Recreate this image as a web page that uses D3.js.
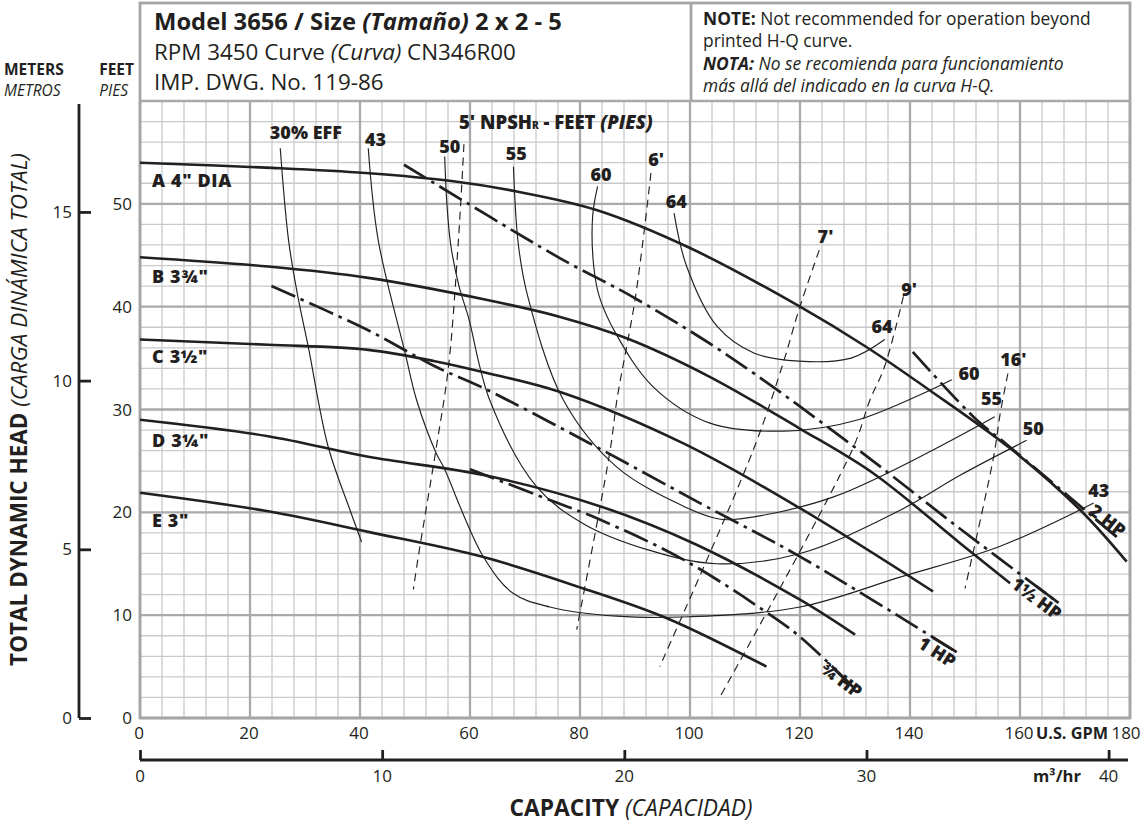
<!DOCTYPE html>
<html><head><meta charset="utf-8">
<script src="https://cdn.jsdelivr.net/npm/d3@7"></script>
<style>
body{margin:0;background:#fff;}
svg text{font-family:"Open Sans","Noto Sans",sans-serif;fill:#231f20;}
</style></head><body>
<svg id="c" width="1146" height="824"></svg>
<script>
// ---------------- DATA ----------------
const gpmTicks = [0,20,40,60,80,100,120,140,160,180];
const ftTicks = [0,10,20,30,40,50];
const meterTicks = [0,5,10,15];
const m3hTicks = [0,10,20,30,40];

// head-capacity curves [GPM, feet]
const headA = [[0,54],[24,53.5],[41,53],[57,52.2],[68.5,51.2],[83,49.4],[100,45.7],[120,40],[132,36.1],[143.5,31.9],[158.5,26.1],[171,20.2],[179.4,15.2]];
const headB = [[0,44.8],[23.3,43.9],[41.5,42.8],[62.7,40.7],[76.4,39.0],[88.6,36.9],[103.5,33.2],[119.8,28.2],[133.3,23.8],[149.1,17.0],[158.2,13.1]];
const headC = [[0,36.8],[23.3,36.3],[41.5,35.8],[53.6,34.7],[62.7,33.6],[76.4,31.7],[98.8,26.7],[120,20.4],[144.2,12.3]];
const headD = [[0,29.0],[23.3,27.4],[41.5,25.4],[62.7,23.6],[83.6,20.6],[101,16.9],[120,11.5],[130,8.1]];
const headE = [[0,21.9],[23.3,20.1],[41.5,18.1],[62.1,15.7],[80.6,12.6],[95.8,9.7],[113.9,5.0]];

// efficiency curves
const eff30 = [[25.5,55.4],[27,46.5],[28.7,41.0],[30.6,36.1],[34.2,26.4],[38.2,20.2],[40.3,17.1]];
const eff43 = [[41.5,55.4],[43.3,46.5],[48.2,35.5],[50.3,30.9],[53.9,25.7],[55.2,24.4],[62.4,15.7],[67.9,12.1],[74.5,10.8],[86.7,9.9],[100,9.85],[120,10.8],[138.2,13.7],[156.4,16.7],[173.4,20.9]];
const eff50 = [[55.4,54.6],[55.8,50],[56.5,46],[58,42],[59.7,39.0],[63.6,30.9],[72.1,22.5],[80.6,18.9],[92.7,16.3],[104.8,15.0],[120,16.0],[138.2,20.2],[149.1,23.6],[161.2,27.0]];
const eff55 = [[67.9,53.6],[68.8,46],[70.5,41.0],[77,30.9],[86.7,24.4],[98.8,20.6],[104.8,19.4],[107.9,19.3],[126.1,21.5],[155.4,29.3]];
const eff60 = [[83.2,51.7],[82.3,48.8],[82.5,43.9],[83.5,41.0],[86.5,37.4],[93.3,32.2],[103.5,28.7],[117.1,27.9],[130.6,29.0],[147.6,32.9]];
const eff64 = [[97.1,49.1],[99.4,43.9],[104.9,38.1],[111.6,35.5],[119.8,34.7],[129.3,35.0],[135.4,36.8]];

// NPSHr curves (feet)
const npsh5 = [[58.9,55.8],[57.9,46.5],[56.1,34.2],[53.9,26.4],[50.6,15.7],[49.7,12.5]];
const npsh6 = [[92.9,53.0],[90.1,41.0],[86.7,30.9],[85.5,26.1],[79.4,8.6]];
const npsh7 = [[123.5,45.5],[119.8,39.7],[117.1,34.8],[111.6,26.2],[94.5,5.0]];
const npsh9 = [[138.8,41.0],[135.4,34.2],[132.7,30.9],[129.6,26.2],[105.5,2.1]];
const npsh16 = [[157.8,33.5],[156.4,29.6],[155.2,25.4],[150,12.6]];

// horsepower lines
const hp2 = [[140.5,35.6],[152.1,29.0],[157.6,26.6],[177.6,17.6]];
const hp15 = [[48,53.8],[76.4,44.7],[89.4,41.0],[106.2,35.5],[129.3,26.6],[149.1,18.4],[167,11.2]];
const hp1 = [[23.9,42.0],[41.5,37.7],[53.6,34.2],[62.4,32.1],[81.8,26.7],[101.8,20.9],[120,15.7],[148.5,6.4]];
const hp34 = [[60,24.2],[74.5,21.2],[83.6,19.3],[98.8,15.4],[113.3,10.5],[120,7.9],[129.7,3.0]];

// curve labels [text, GPM, feet]
const impLabels = [["A 4\" DIA",2.2,51.6],["B 3¾\"",2.2,42.3],["C 3½\"",2.2,34.5],["D 3¼\"",2.2,26.4],["E 3\"",2.2,18.6]];
const effLabels = [["30% EFF",23.6,56.3],["43",40.9,55.6],["50",54.4,54.9],["55",66.5,54.3],["60",81.9,52.2],["64",95.6,49.6],
                   ["64",133.0,37.4],["60",148.8,32.9],["55",152.9,30.4],["50",160.5,27.5],["43",172.4,21.5]];
const npshLabels = [["6'",92.4,53.7],["7'",123.2,46.2],["9'",138.4,41.0],["16'",156.4,34.2]];
const hpLabels = [["2 HP",175.9,19.2,38],["1½ HP",163.0,11.6,37],["1 HP",144.9,6.4,33],["¾ HP",127.5,3.7,37]];

// ---------------- DRAW ----------------
const ink = "#231f20";
const svg = d3.select("#c");
const x = d3.scaleLinear().domain([0,180]).range([140,1130]);
const y = d3.scaleLinear().domain([0,60]).range([718,101]);
const yM = d3.scaleLinear().domain([0,60/3.28084]).range([718,101]);
const xM = d3.scaleLinear().domain([0,180/4.402868]).range([140,1130]);

function fit(sel, w){ const l=sel.node().getComputedTextLength(); const fs=+sel.attr("font-size"); const n=fs*w/l; sel.attr("font-size",n); return n; }
function mixed(sel, parts){ parts.forEach(p=>{ const t=sel.append("tspan").text(p[0]); if(p[1])t.attr("font-weight",700); if(p[2])t.attr("font-style","italic"); if(p[3])t.attr("font-size",p[3]);}); return sel; }

// grid
const grid = svg.append("g");
const minorX = d3.range(0,181,4).filter(v=>v%20!==0), majorX = d3.range(0,181,20);
const minorY = d3.range(0,61,2).filter(v=>v%10!==0), majorY = d3.range(0,61,10);
grid.selectAll(".mx").data(minorX).join("line").attr("x1",d=>x(d)).attr("x2",d=>x(d)).attr("y1",y(0)).attr("y2",y(60)).attr("stroke","#c9c9cb").attr("stroke-width",1.3);
grid.selectAll(".my").data(minorY).join("line").attr("y1",d=>y(d)).attr("y2",d=>y(d)).attr("x1",x(0)).attr("x2",x(180)).attr("stroke","#c9c9cb").attr("stroke-width",1.3);
grid.selectAll(".Mx").data(majorX).join("line").attr("x1",d=>x(d)).attr("x2",d=>x(d)).attr("y1",y(0)).attr("y2",y(60)).attr("stroke","#a9a9ab").attr("stroke-width",2.3);
grid.selectAll(".My").data(majorY).join("line").attr("y1",d=>y(d)).attr("y2",d=>y(d)).attr("x1",x(0)).attr("x2",x(180)).attr("stroke","#a9a9ab").attr("stroke-width",2.3);
svg.append("rect").attr("x",x(0)).attr("y",3).attr("width",x(180)-x(0)).attr("height",y(0)-3).attr("fill","none").attr("stroke","#a5a5a7").attr("stroke-width",2.8);
svg.append("line").attr("x1",691).attr("x2",691).attr("y1",3).attr("y2",y(60)).attr("stroke","#a5a5a7").attr("stroke-width",2.8);

// header texts
const t1 = mixed(svg.append("text").attr("x",154).attr("y",30).attr("font-size",20),[["Model 3656 / Size ",1],["(Tamaño)",1,1],[" 2 x 2 - 5",1]]);
fit(t1,408);
const t2 = mixed(svg.append("text").attr("x",154).attr("y",60).attr("font-size",18),[["RPM 3450 Curve "],["(Curva)",0,1],[" CN346R00"]]);
const fs2 = fit(t2,362);
svg.append("text").attr("x",154).attr("y",90).attr("font-size",fs2).text("IMP. DWG. No. 119-86");
const n1 = mixed(svg.append("text").attr("x",703).attr("y",25).attr("font-size",15),[["NOTE:",1],[" Not recommended for operation beyond"]]);
const fsn = fit(n1,388);
svg.append("text").attr("x",703).attr("y",47).attr("font-size",fsn).text("printed H-Q curve.");
mixed(svg.append("text").attr("x",703).attr("y",70).attr("font-size",fsn).attr("font-style","italic"),[["NOTA:",1],[" No se recomienda para funcionamiento"]]);
svg.append("text").attr("x",703).attr("y",92).attr("font-size",fsn).attr("font-style","italic").text("más allá del indicado en la curva H-Q.");

// unit labels
const u1 = svg.append("text").attr("x",4).attr("y",75).attr("font-size",15).attr("font-weight",700).text("METERS");
const fsu = Math.min(fit(u1,68),15.5); u1.attr("font-size",fsu);
svg.append("text").attr("x",134).attr("y",75).attr("font-size",fsu).attr("font-weight",700).attr("text-anchor","end").text("FEET");
svg.append("text").attr("x",4).attr("y",96).attr("font-size",fsu).attr("font-style","italic").text("METROS");
svg.append("text").attr("x",128).attr("y",96).attr("font-size",fsu).attr("font-style","italic").attr("text-anchor","end").text("PIES");

// feet labels
svg.selectAll(".ftl").data(ftTicks).join("text").attr("x",132).attr("y",d=>y(d)).attr("dy","0.36em").attr("text-anchor","end").attr("font-size",17).text(d=>d);
// meters axis
const mAxis = svg.append("g").attr("transform","translate(79,0)").call(d3.axisRight(yM).tickValues(meterTicks).tickSize(12).tickFormat(""));
mAxis.select(".domain").attr("d",`M0,104V${y(0)}`).attr("stroke",ink).attr("stroke-width",2.8);
mAxis.selectAll(".tick line").attr("stroke",ink).attr("stroke-width",2.8);
svg.selectAll(".ml").data(meterTicks).join("text").attr("x",72).attr("y",d=>yM(d)).attr("dy","0.36em").attr("text-anchor","end").attr("font-size",17).text(d=>d);

// y title
const yt = mixed(svg.append("text").attr("transform","translate(27,409.5) rotate(-90)").attr("text-anchor","middle").attr("font-size",18),[["TOTAL DYNAMIC HEAD",1],[" (CARGA DINÁMICA TOTAL)",0,1]]);
fit(yt,513);

// GPM labels
svg.selectAll(".gl").data(gpmTicks).join("text").attr("x",d=>d===180?x(d)-4:x(d)-1).attr("y",739).attr("text-anchor","middle").attr("font-size",17).text(d=>d);
fit(svg.append("text").attr("x",1072).attr("y",739).attr("text-anchor","middle").attr("font-size",16).attr("font-weight",700).text("U.S. GPM"),72);
// m3/hr axis
const bAxis = svg.append("g").attr("transform","translate(0,760)").call(d3.axisTop(xM).tickValues(m3hTicks).tickSize(10).tickFormat(""));
bAxis.select(".domain").attr("d",`M${x(0)},0H1128`).attr("stroke",ink).attr("stroke-width",2.8);
bAxis.selectAll(".tick line").attr("stroke",ink).attr("stroke-width",2.8);
svg.selectAll(".hl").data(m3hTicks).join("text").attr("x",d=>xM(d)).attr("y",782).attr("text-anchor","middle").attr("font-size",17).text(d=>d);
fit(svg.append("text").attr("x",1081).attr("y",782).attr("text-anchor","end").attr("font-size",16).attr("font-weight",700).text("m³/hr"),48);
fit(mixed(svg.append("text").attr("x",631).attr("y",816).attr("text-anchor","middle").attr("font-size",18),[["CAPACITY",1],[" (CAPACIDAD)",0,1]]),243);

// curves
const line = d3.line().x(d=>x(d[0])).y(d=>y(d[1])).curve(d3.curveCatmullRom.alpha(0.5));
const curves = svg.append("g").attr("fill","none").attr("stroke",ink);
[eff30,eff43,eff50,eff55,eff60,eff64].forEach(c=>curves.append("path").attr("d",line(c)).attr("stroke-width",1.15));
[npsh5,npsh6,npsh7,npsh9,npsh16].forEach(c=>curves.append("path").attr("d",line(c)).attr("stroke-width",1.15).attr("stroke-dasharray","8,5.5"));
[headA,headB,headC,headD,headE].forEach(c=>curves.append("path").attr("d",line(c)).attr("stroke-width",2.6));
[hp2,hp15,hp1,hp34].forEach(c=>{
  curves.append("path").attr("d",line(c)).attr("stroke-width",2.7).attr("stroke-dasharray","26,6,3.5,6");
  const a=c[c.length-2], b=c[c.length-1];
  const dx=x(b[0])-x(a[0]), dy=y(b[1])-y(a[1]), L=Math.hypot(dx,dy);
  curves.append("line").attr("x1",x(b[0])-dx/L*28).attr("y1",y(b[1])-dy/L*28).attr("x2",x(b[0])).attr("y2",y(b[1])).attr("stroke-width",2.7);
});

// labels
const fsl = 18;
const lab = svg.append("g").attr("font-weight",800).attr("font-size",fsl);
lab.selectAll(".il").data(impLabels).join("text").attr("x",d=>x(d[1])).attr("y",d=>y(d[2])).attr("letter-spacing",0.6).text(d=>d[0]);
lab.selectAll(".el").data(effLabels).join("text").attr("x",d=>x(d[1])).attr("y",d=>y(d[2])).text(d=>d[0]);
lab.selectAll(".nl").data(npshLabels).join("text").attr("x",d=>x(d[1])).attr("y",d=>y(d[2])).text(d=>d[0]);
const np = mixed(lab.append("text").attr("x",x(58.0)).attr("y",y(57.3)).attr("font-size",fsl),[["5' NPSH"],["R",0,0,10],[" - FEET "],["(PIES)",0,1]]);
fit(np,194);
lab.selectAll(".hpl").data(hpLabels).join("text")
  .attr("transform",d=>`translate(${x(d[1])},${y(d[2])}) rotate(${d[3]})`)
  .attr("text-anchor","middle").attr("dy","0.35em").text(d=>d[0]);
</script>
</body></html>
